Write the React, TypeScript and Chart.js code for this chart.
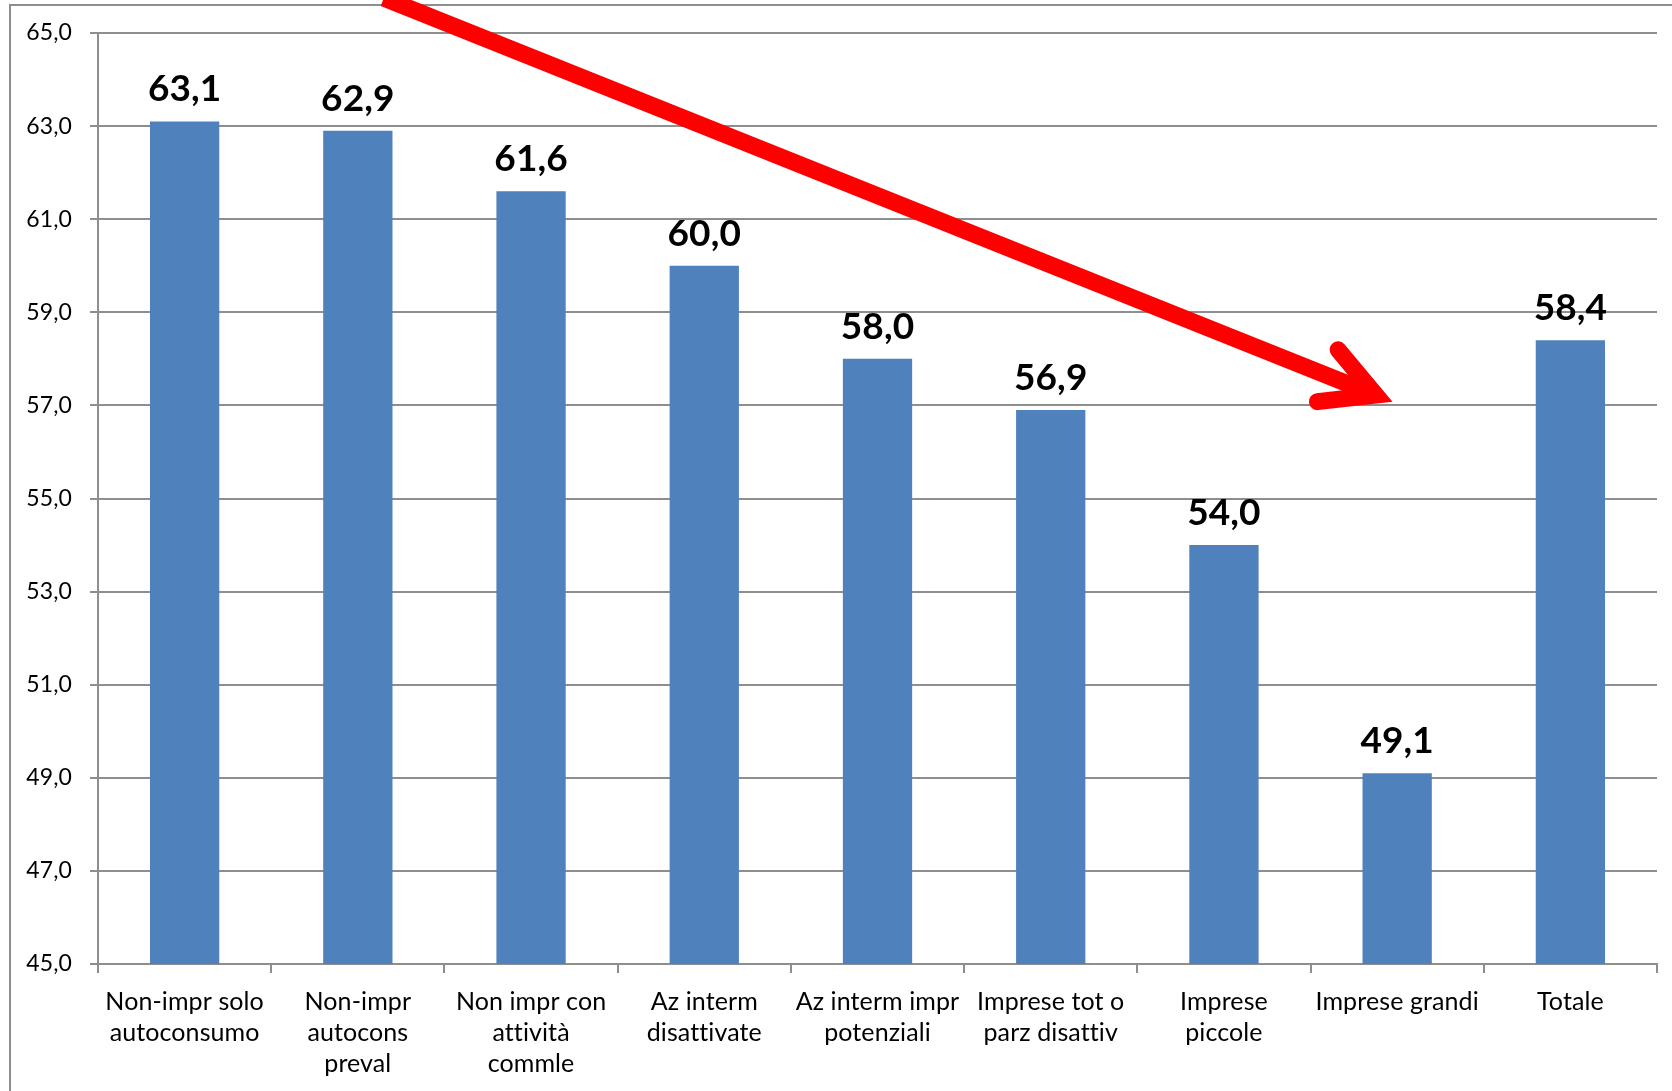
import React, { useEffect, useRef } from 'react';
import { Chart, registerables } from 'chart.js';

Chart.register(...registerables);

const categories: string[][] = [
  ['Non-impr solo', 'autoconsumo'],
  ['Non-impr', 'autocons', 'preval'],
  ['Non impr con', 'attività', 'commle'],
  ['Az interm', 'disattivate'],
  ['Az interm impr', 'potenziali'],
  ['Imprese tot o', 'parz disattiv'],
  ['Imprese', 'piccole'],
  ['Imprese grandi'],
  ['Totale'],
];

const values: number[] = [63.1, 62.9, 61.6, 60.0, 58.0, 56.9, 54.0, 49.1, 58.4];

const yMin = 45;
const yMax = 65;
const yStep = 2;

// Decorative arrow annotation, in data space (category index, value)
const arrowFrom = { x: 1.15, y: 65.75 };
const arrowTo = { x: 6.92, y: 57.16 };

const BAR = '#4F81BD';
const GRID = '#8e8e8e';
const FONT = 'Lato';

const fmt = (v: number) => v.toFixed(1).replace('.', ',');

const frame = {
  id: 'frame',
  beforeDraw(chart: any) {
    const ctx = chart.ctx;
    try {
      ctx.letterSpacing = '0.1px';
      ctx.textRendering = 'optimizeSpeed';
    } catch (e) {}
    ctx.save();
    ctx.strokeStyle = GRID;
    ctx.lineWidth = 2;
    ctx.beginPath();
    ctx.moveTo(10, chart.height + 5);
    ctx.lineTo(10, 5);
    ctx.lineTo(chart.width + 5, 5);
    ctx.stroke();
    ctx.restore();
  },
};

const valueLabels = {
  id: 'valueLabels',
  afterDatasetsDraw(chart: any) {
    const ctx = chart.ctx;
    const meta = chart.getDatasetMeta(0);
    ctx.save();
    ctx.font = `bold 37px ${FONT}`;
    ctx.fillStyle = '#000';
    ctx.textAlign = 'center';
    ctx.textBaseline = 'alphabetic';
    meta.data.forEach((bar: any, i: number) => {
      ctx.fillText(fmt(values[i]), bar.x, bar.y - 20);
    });
    ctx.restore();
  },
};

const arrow = {
  id: 'arrow',
  afterDraw(chart: any) {
    const xs = chart.scales.x;
    const ys = chart.scales.y;
    const x0 = xs.getPixelForValue(arrowFrom.x);
    const y0 = ys.getPixelForValue(arrowFrom.y);
    const x1 = xs.getPixelForValue(arrowTo.x);
    const y1 = ys.getPixelForValue(arrowTo.y);
    const ang = Math.atan2(y1 - y0, x1 - x0);
    const headLen = 66;
    const spread = (25 * Math.PI) / 180;
    const ctx = chart.ctx;
    ctx.save();
    ctx.strokeStyle = '#ff0000';
    ctx.fillStyle = '#ff0000';
    ctx.lineWidth = 17;
    ctx.lineCap = 'butt';
    const sx = x1 - Math.cos(ang) * 22;
    const sy = y1 - Math.sin(ang) * 22;
    ctx.beginPath();
    ctx.moveTo(x0, y0);
    ctx.lineTo(sx, sy);
    ctx.stroke();
    const a1x = x1 - Math.cos(ang - spread) * headLen;
    const a1y = y1 - Math.sin(ang - spread) * headLen;
    const a2x = x1 - Math.cos(ang + spread) * headLen;
    const a2y = y1 - Math.sin(ang + spread) * headLen;
    ctx.beginPath();
    ctx.moveTo(a1x, a1y);
    ctx.lineTo(x1 - Math.cos(ang) * 8, y1 - Math.sin(ang) * 8);
    ctx.lineTo(a2x, a2y);
    ctx.lineCap = 'round';
    ctx.lineJoin = 'miter';
    ctx.miterLimit = 10;
    ctx.stroke();
    ctx.beginPath();
    ctx.moveTo(x1, y1);
    ctx.lineTo(x1 - Math.cos(ang - spread) * 32, y1 - Math.sin(ang - spread) * 32);
    ctx.lineTo(x1 - Math.cos(ang + spread) * 32, y1 - Math.sin(ang + spread) * 32);
    ctx.closePath();
    ctx.fill();
    ctx.restore();
  },
};

export default function App() {
  const ref = useRef<HTMLCanvasElement | null>(null);

  useEffect(() => {
    if (!ref.current) return;
    const chart = new Chart(ref.current, {
      type: 'bar',
      data: {
        labels: categories,
        datasets: [
          {
            data: values,
            backgroundColor: BAR,
            borderWidth: 0,
            barPercentage: 0.4,
            categoryPercentage: 1,
          },
        ],
      },
      options: {
        animation: false,
        responsive: false,
        maintainAspectRatio: false,
        layout: { padding: { top: 33, right: 15, left: 0, bottom: 0 } },
        plugins: {
          legend: { display: false },
          tooltip: { enabled: false },
        },
        scales: {
          x: {
            grid: {
              offset: true,
              drawOnChartArea: false,
              drawTicks: true,
              tickLength: 9,
              color: GRID,
              lineWidth: 2,
            },
            border: { display: true, color: GRID, width: 2 },
            ticks: {
              font: { family: FONT, size: 25, lineHeight: 1.24 },
              color: '#000',
              padding: 13,
              maxRotation: 0,
              minRotation: 0,
              autoSkip: false,
            },
            afterFit: (s: any) => {
              s.height = 127;
            },
          },
          y: {
            min: yMin,
            max: yMax,
            ticks: {
              stepSize: yStep,
              callback: (v: any) => fmt(Number(v)),
              font: { family: FONT, size: 23 },
              color: '#000',
              padding: 18,
            },
            grid: { color: GRID, lineWidth: 2, tickLength: 8 },
            border: { display: true, color: GRID, width: 2 },
            afterFit: (s: any) => {
              s.width = 98;
            },
          },
        },
      },
      plugins: [frame, valueLabels, arrow],
    } as any);
    return () => chart.destroy();
  }, []);

  return (
    <div style={{ position: 'fixed', left: 0, top: 0, width: 1672, height: 1091, background: '#fff' }}>
      <canvas ref={ref} width={1672} height={1091} style={{ display: 'block' }} />
    </div>
  );
}
